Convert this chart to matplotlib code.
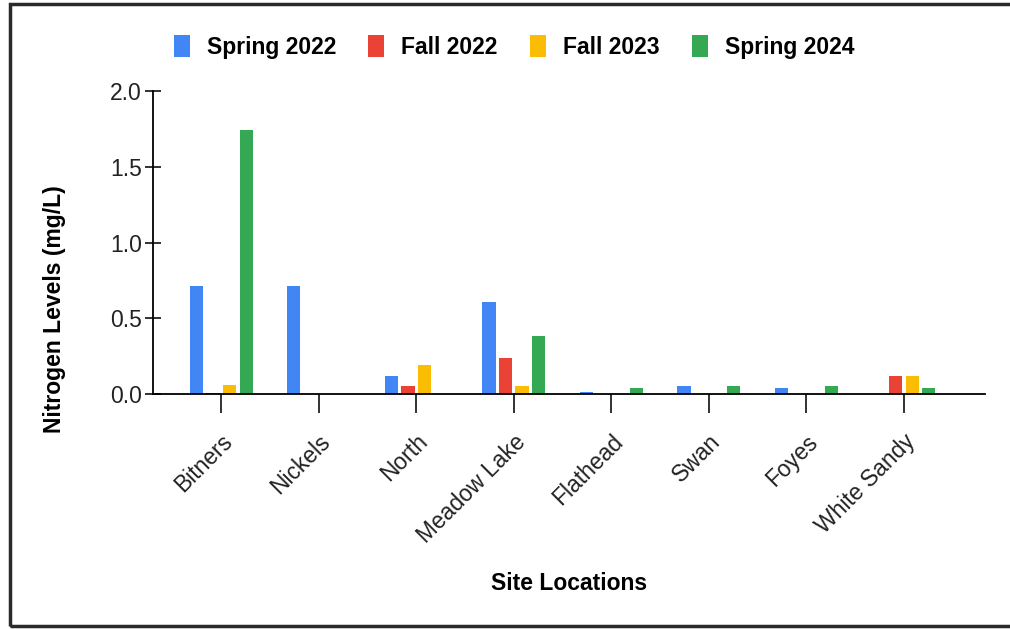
import matplotlib.pyplot as plt
import numpy as np
from matplotlib.patches import Rectangle

plt.rcParams['font.family'] = ['Liberation Sans', 'DejaVu Sans']

# === Data ===
sites = ["Bitners", "Nickels", "North", "Meadow Lake", "Flathead", "Swan", "Foyes", "White Sandy"]
spring_2022 = [0.71, 0.71, 0.12, 0.61, 0.01, 0.05, 0.04, 0.0]
fall_2022 = [0.005, 0.0, 0.05, 0.24, 0.0, 0.0, 0.0, 0.12]
fall_2023 = [0.06, 0.0, 0.19, 0.05, 0.0, 0.0, 0.0, 0.12]
spring_2024 = [1.74, 0.0, 0.0, 0.38, 0.04, 0.05, 0.05, 0.04]

series = [
    ("Spring 2022", spring_2022, "#4285F4"),
    ("Fall 2022", fall_2022, "#EA4335"),
    ("Fall 2023", fall_2023, "#FBBC04"),
    ("Spring 2024", spring_2024, "#34A853"),
]

# === Figure ===
fig = plt.figure(figsize=(10.1, 6.29), dpi=100)
ax = fig.add_axes([0.1515, 0.3736, 0.8235, 0.4817])

x = np.arange(len(sites))
step = 0.17
width = 0.135
for i, (name, vals, color) in enumerate(series):
    ax.bar(x + (i - 1.5) * step, vals, width, color=color, label=name, zorder=2)

ax.set_xlim(-0.7, 7.83)
ax.set_ylim(0, 2.0)
ax.set_yticks([0, 0.5, 1.0, 1.5, 2.0])
ax.set_yticklabels(["0.0", "0.5", "1.0", "1.5", "2.0"], fontsize=16.5)
ax.set_xticks(x)
ax.set_xticklabels(sites, rotation=45, ha='right', va='top',
                   rotation_mode='anchor', fontsize=16.5)

for side in ['top', 'right']:
    ax.spines[side].set_visible(False)
for side in ['left', 'bottom']:
    ax.spines[side].set_linewidth(1.3)
ax.tick_params(axis='y', direction='inout', length=12, width=1.3, pad=2, colors='#222222')
ax.tick_params(axis='x', direction='out', length=14, width=1.3, pad=12, colors='#222222')

fig.text(0.054, 0.508, "Nitrogen Levels (mg/L)", rotation=90, ha='center', va='center',
         fontsize=16.5, fontweight='bold')
fig.text(0.5634, 0.073, "Site Locations", ha='center', va='center',
         fontsize=16.5, fontweight='bold')

fig.legend(loc='center', bbox_to_anchor=(0.509, 0.925), ncol=4, frameon=False,
           prop={'weight': 'bold', 'size': 16.5}, handlelength=0.7, handleheight=1.1,
           handletextpad=0.75, columnspacing=1.4)

# === Border (right edge falls outside the picture) ===
fig.patches.append(Rectangle((10 / 1010, 3 / 629), 1.1, 1 - 7 / 629,
                             transform=fig.transFigure, fill=False,
                             edgecolor='#2a2a2a', linewidth=2.5))

fig.savefig("out.png", dpi=100)
plt.close()
